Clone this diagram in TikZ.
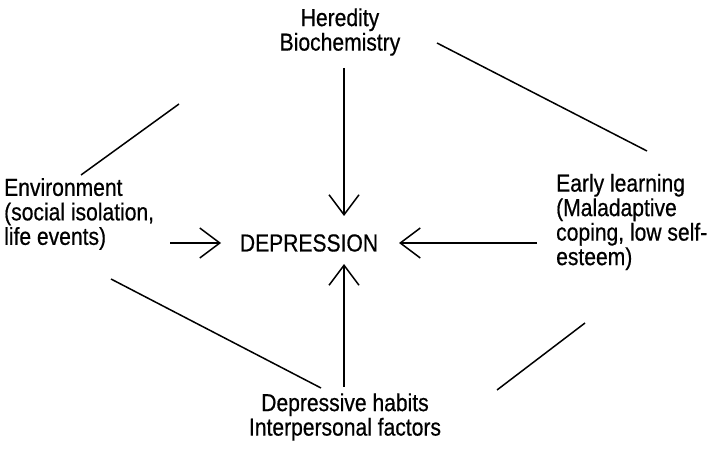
\documentclass[tikz,border=0pt]{standalone}
\usepackage{fontspec}
\setmainfont{Liberation Sans}[FakeStretch=0.86,FakeBold=0.6]
\usetikzlibrary{arrows.meta}
\begin{document}
\begin{tikzpicture}[x=1pt,y=-1pt,
  label text/.style={inner sep=0pt,font=\fontsize{24.5}{24.5}\selectfont},
  link/.style={line width=1.5pt},
  influence/.style={line width=1.5pt,-{Straight Barb[length=20pt,width=30pt,line width=1.5pt]}}]
  \useasboundingbox (0,0) rectangle (713,465);

  % factor labels
  \node[label text,align=center] (her) at (340,32) {Heredity\\Biochemistry};
  \node[label text,align=left,anchor=west] (env) at (4,214) {Environment\\(social isolation,\\life events)};
  \node[label text,align=left,anchor=west] (early) at (556,222) {Early learning\\(Maladaptive\\coping, low self-\\esteem)};
  \node[label text,align=center] (hab) at (345,417) {Depressive habits\\Interpersonal factors};
  \node[label text] (dep) at (309,243) {DEPRESSION};

  % arrow end points
  \coordinate (herS) at (344,68);
  \coordinate (envE) at (170,243);
  \coordinate (earlyW) at (537,243);
  \coordinate (habN) at (344,387);
  \coordinate (depN) at (344,216);
  \coordinate (depW) at (221,243);
  \coordinate (depE) at (399,243);
  \coordinate (depS) at (344,264);

  % influences on depression
  \draw[influence] (herS) -- (depN);
  \draw[influence] (envE) -- (depW);
  \draw[influence] (earlyW) -- (depE);
  \draw[influence] (habN) -- (depS);

  % links between the factors
  \coordinate (envNE) at (81,175);
  \coordinate (herSW) at (179,104);
  \coordinate (herE) at (437,43);
  \coordinate (earlyN) at (647,151);
  \coordinate (envSE) at (111,279);
  \coordinate (habNW) at (321,388);
  \coordinate (habNE) at (497,390);
  \coordinate (earlySW) at (585,323);
  \draw[link] (envNE) -- (herSW);
  \draw[link] (herE) -- (earlyN);
  \draw[link] (envSE) -- (habNW);
  \draw[link] (habNE) -- (earlySW);
\end{tikzpicture}
\end{document}
